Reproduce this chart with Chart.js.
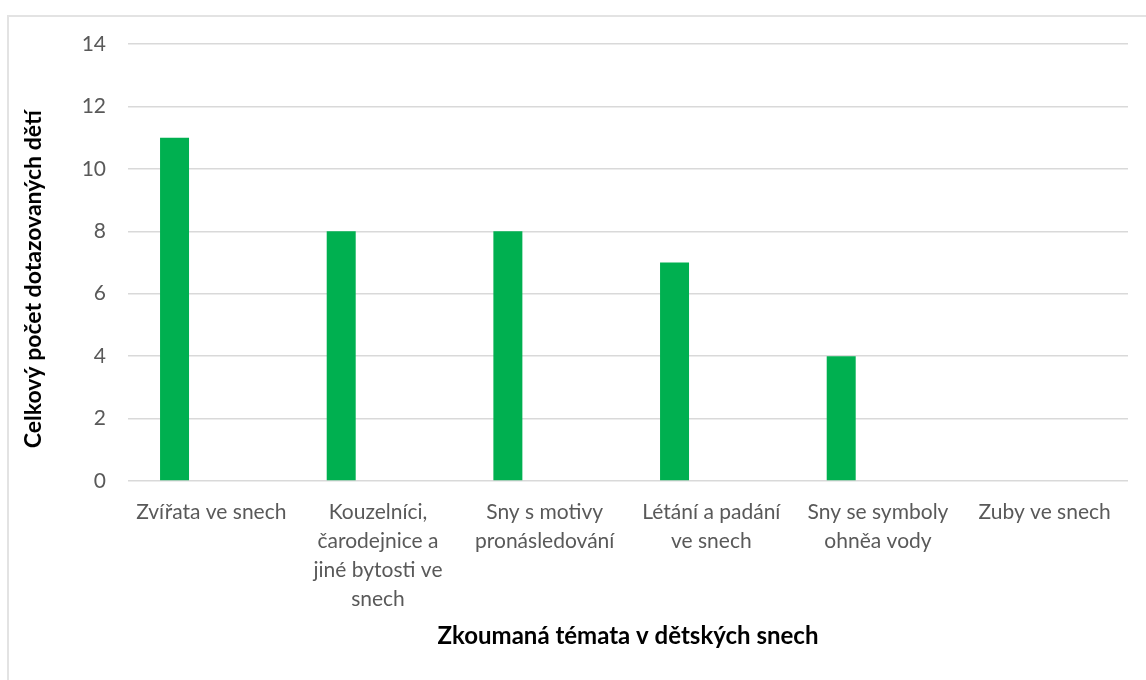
<!DOCTYPE html>
<html lang="cs">
<head>
    <meta charset="UTF-8">
    <title>Zkoumaná témata v dětských snech</title>
    <script src="https://cdn.jsdelivr.net/npm/chart.js@4.4.1/dist/chart.umd.min.js"></script>
    <style>
        html, body { margin: 0; padding: 0; background: #fff; overflow: hidden; }
        /* frame of the chart, runs off the right and bottom edge */
        .frame {
            position: absolute; left: 7px; top: 15px;
            width: 1300px; height: 800px;
            border: 2px solid #e3e3e3;
            box-sizing: border-box;
        }
        .chart-container { position: absolute; left: 0; top: 0; width: 1146px; height: 680px; }
    </style>
</head>
<body>
    <div class="frame"></div>
    <div class="chart-container">
        <canvas id="dreamChart"></canvas>
    </div>

    <script>
        // categories (multi-line labels as in the original)
        const categories = [
            'Zvířata ve snech',
            ['Kouzelníci,', 'čarodejnice a', 'jiné bytosti ve', 'snech'],
            ['Sny s motivy', 'pronásledování'],
            ['Létání a padání', 've snech'],
            ['Sny se symboly', 'ohněa vody'],
            'Zuby ve snech'
        ];
        // number of children per theme
        const childCount = [11, 8, 8, 7, 4, 0];
        // empty second series (keeps bars shifted left like in the original)
        const emptySeries = [null, null, null, null, null, null];

        const yTicks = [0, 2, 4, 6, 8, 10, 12, 14];

        const fontFamily = "Lato, 'Open Sans', sans-serif";

        const ctx = document.getElementById('dreamChart').getContext('2d');
        new Chart(ctx, {
            type: 'bar',
            data: {
                labels: categories,
                datasets: [{
                    label: 'Celkový počet',
                    data: childCount,
                    backgroundColor: '#00B050',
                    categoryPercentage: 0.883,
                    barPercentage: 0.394
                }, {
                    label: '',
                    data: emptySeries,
                    backgroundColor: '#ED7D31',
                    categoryPercentage: 0.883,
                    barPercentage: 0.394
                }]
            },
            options: {
                responsive: true,
                maintainAspectRatio: false,
                animation: false,
                layout: { padding: { left: 20, top: 44, right: 18, bottom: 29 } },
                plugins: {
                    legend: { display: false },
                    tooltip: { enabled: false }
                },
                scales: {
                    x: {
                        grid: { display: false, drawTicks: false },
                        border: { display: false },
                        ticks: {
                            color: '#595959',
                            font: { family: fontFamily, size: 21, lineHeight: 1.38 },
                            padding: 17,
                            maxRotation: 0,
                            autoSkip: false
                        },
                        title: {
                            display: true,
                            text: 'Zkoumaná témata v dětských snech',
                            color: '#000',
                            font: { family: fontFamily, size: 24, weight: 'bold', lineHeight: 1.2 },
                            padding: { top: 0, bottom: 0 }
                        },
                        afterFit: (scale) => { scale.height = 680 - 481 - 29; }
                    },
                    y: {
                        min: 0,
                        max: 14,
                        afterBuildTicks: (scale) => { scale.ticks = yTicks.map(v => ({ value: v })); },
                        grid: { color: '#d9d9d9', lineWidth: 1.5, drawTicks: false },
                        border: { display: false },
                        ticks: {
                            color: '#595959',
                            font: { family: fontFamily, size: 21 },
                            padding: 22
                        },
                        title: {
                            display: true,
                            // trailing spaces nudge the title down a little, as in the original
                            text: 'Celkový počet dotazovaných dětí      ',
                            color: '#000',
                            font: { family: fontFamily, size: 23, weight: 'bold', lineHeight: 1.2 },
                            padding: { top: 0, bottom: 0 }
                        },
                        afterFit: (scale) => { scale.width = 128 - 20; }
                    }
                }
            }
        });
    </script>
</body>
</html>
